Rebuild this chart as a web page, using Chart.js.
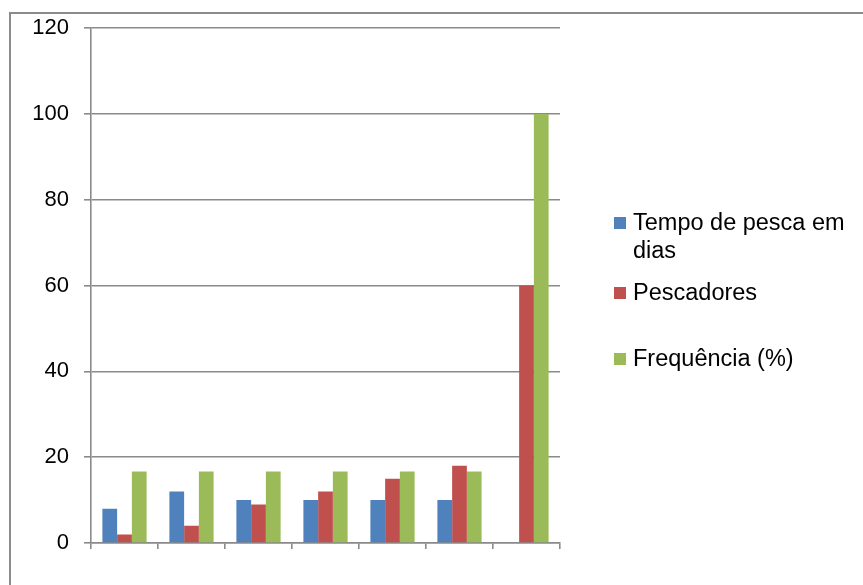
<!DOCTYPE html>
<html>
<head>
<meta charset="utf-8">
<script src="https://cdn.jsdelivr.net/npm/chart.js@4.4.0/dist/chart.umd.min.js"></script>
<style>
  body { margin: 0; background: #fff; font-family: "Liberation Sans", Arial, sans-serif; }
  #wrap { position: relative; width: 863px; height: 585px; overflow: hidden; }
  #moldura { position: absolute; left: 9px; top: 12px; width: 900px; height: 620px;
    border-left: 2px solid #8c8c8c; border-top: 2px solid #8c8c8c; box-sizing: border-box; }
  canvas { position: absolute; left: 0; top: 0; }
  #legenda { position: absolute; left: 614px; top: 0; width: 249px; }
  .item { position: absolute; left: 0; width: 249px; font-size: 23.5px; line-height: 28px; color: #000; }
  .item span.cx { position: absolute; left: 0; width: 12px; height: 12px; }
  .item span.tx { display: block; margin-left: 19px; }
</style>
</head>
<body>
<div id="wrap">
  <div id="moldura"></div>
  <canvas id="grafico" width="863" height="585"></canvas>
  <div id="legenda"></div>
</div>
<script>
// categorias sem rotulo no eixo x
const categorias = ["1", "2", "3", "4", "5", "6", "7"];
const tempoPesca = [8, 12, 10, 10, 10, 10, 0];
const pescadores = [2, 4, 9, 12, 15, 18, 60];
const frequencia = [16.67, 16.67, 16.67, 16.67, 16.67, 16.67, 100];
const ticksY = [0, 20, 40, 60, 80, 100, 120];

const cinza = "#8a8a8a";

const ctx = document.getElementById("grafico").getContext("2d");
const grafico = new Chart(ctx, {
  type: "bar",
  data: {
    labels: categorias,
    datasets: [
      { label: "Tempo de pesca em dias", data: tempoPesca, backgroundColor: "#4F81BD" },
      { label: "Pescadores", data: pescadores, backgroundColor: "#C0504D" },
      { label: "Frequência (%)", data: frequencia, backgroundColor: "#9BBB59" },
    ],
  },
  options: {
    responsive: false,
    animation: false,
    layout: { padding: { top: 28, right: 303, bottom: 0, left: 0 } },
    datasets: { bar: { barPercentage: 1, categoryPercentage: 0.66 } },
    plugins: { legend: { display: false }, tooltip: { enabled: false } },
    scales: {
      x: {
        afterFit: (s) => { s.height = 42; },
        ticks: { display: false },
        grid: { offset: true, drawOnChartArea: false, color: cinza, lineWidth: 1.6, tickLength: 6 },
        border: { color: cinza, width: 1.6 },
      },
      y: {
        min: 0,
        max: 120,
        afterFit: (s) => { s.width = 91; },
        afterBuildTicks: (s) => { s.ticks = ticksY.map((v) => ({ value: v })); },
        ticks: { color: "#000", padding: 15, font: { family: "'Liberation Sans', Arial", size: 22 } },
        grid: { color: cinza, lineWidth: 1.6, tickLength: 7 },
        border: { color: cinza, width: 1.6 },
      },
    },
  },
});

// legenda em html para permitir quebra de linha
const posLegenda = [208, 278, 344];
const legenda = document.getElementById("legenda");
grafico.data.datasets.forEach((ds, i) => {
  const quebra = i === 0 ? "Tempo de pesca em<br>dias" : ds.label;
  legenda.insertAdjacentHTML(
    "beforeEnd",
    `<div class="item" style="top:${posLegenda[i]}px">
       <span class="cx" style="top:9px;background:${ds.backgroundColor}"></span>
       <span class="tx">${quebra}</span>
     </div>`
  );
});
</script>
</body>
</html>
